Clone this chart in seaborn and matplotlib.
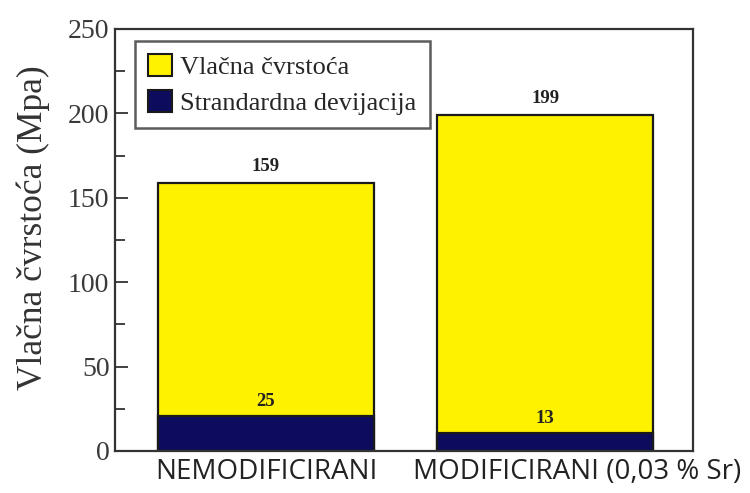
import matplotlib
matplotlib.use("Agg")
import matplotlib.pyplot as plt
from matplotlib.patches import Patch
from matplotlib.transforms import ScaledTranslation
import seaborn as sns
import pandas as pd

# Data
kategorije = ["NEMODIFICIRANI", "MODIFICIRANI (0,03 % Sr)"]
vlacna_cvrstoca = [159, 199]
devijacija_oznaka = [25, 13]          # values printed on the chart
devijacija_visina = [20.5, 10.7]      # segment heights as drawn in the picture
y_ticks = [0, 50, 100, 150, 200, 250]

sns.set_theme(style="white")
plt.rcParams["font.family"] = ["Liberation Serif", "DejaVu Serif"]

yellow = "#fff200"
navy = "#0c0b5c"
edge = "#1a1a1a"

fig = plt.figure(figsize=(7.5, 4.93), dpi=100)
ax = fig.add_axes([115 / 750, (493 - 451) / 493, 578 / 750, (451 - 29) / 493])

df = pd.DataFrame({"kat": kategorije, "ukupno": vlacna_cvrstoca,
                   "dev": devijacija_visina})

sns.barplot(data=df, x="kat", y="ukupno", color=yellow, saturation=1,
            width=0.774, edgecolor=edge, linewidth=1.6, ax=ax)
sns.barplot(data=df, x="kat", y="dev", color=navy, saturation=1,
            width=0.774, edgecolor=edge, linewidth=1.6, ax=ax)

for i, (t, d, dl) in enumerate(zip(vlacna_cvrstoca, devijacija_visina, devijacija_oznaka)):
    ax.text(i, t + 4.5, str(t), ha="center", va="bottom", fontsize=13.5,
            fontweight="bold", color="#222222")
    ax.text(i, d + 3.5, str(dl), ha="center", va="bottom", fontsize=13.5,
            fontweight="bold", color="#222222")

ax.set_xlim(-0.541, 1.53)
ax.set_ylim(0, 250)
ax.set_yticks(y_ticks)
ax.set_yticks([25, 75, 125, 175, 225], minor=True)
ax.tick_params(axis="y", which="major", direction="in", length=9, width=1.3,
               color="#333333", labelsize=20, labelcolor="#3a3a3a", pad=4, left=True)
ax.tick_params(axis="y", which="minor", direction="in", length=7, width=1.3,
               color="#333333", left=True)
ax.tick_params(axis="x", length=0, pad=5)
xlabels = ax.get_xticklabels()
for lbl in xlabels:
    lbl.set_fontfamily(["Open Sans", "DejaVu Sans"])
    lbl.set_fontsize(20)
    lbl.set_color("#222222")
xlabels[1].set_transform(xlabels[1].get_transform() +
                         ScaledTranslation(0.32, 0, fig.dpi_scale_trans))

ax.set_xlabel("")
ax.set_ylabel("Vlačna čvrstoća (Mpa)", fontsize=25.5, color="#333333")
ax.yaxis.set_label_coords(-0.112, 0.53)

for s in ax.spines.values():
    s.set_visible(True)
    s.set_color("#333333")
    s.set_linewidth(1.6)

handles = [Patch(facecolor=yellow, edgecolor=edge, linewidth=1.5, label="Vlačna čvrstoća"),
           Patch(facecolor=navy, edgecolor=edge, linewidth=1.5, label="Strandardna devijacija")]
leg = ax.legend(handles=handles, loc="upper left", bbox_to_anchor=(0.035, 0.972),
                fontsize=19, frameon=True, fancybox=False, borderpad=0.5,
                handlelength=0.9, handleheight=0.9, handletextpad=0.3,
                labelspacing=0.42, borderaxespad=0)
leg.get_frame().set_edgecolor("#333333")
leg.get_frame().set_linewidth(1.8)

fig.savefig("out.png", dpi=100)
